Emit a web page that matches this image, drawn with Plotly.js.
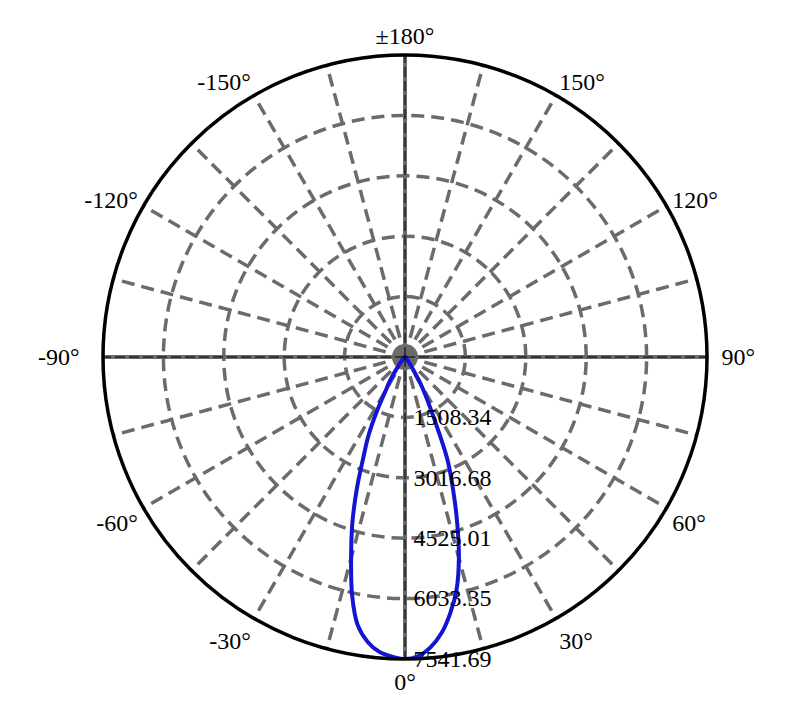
<!DOCTYPE html>
<html>
<head>
<meta charset="utf-8">
<script src="https://cdn.plot.ly/plotly-3.0.1.min.js"></script>
<style>
  html, body { margin: 0; padding: 0; background: #fff; }
  #chart { width: 810px; height: 710px; }
</style>
</head>
<body>
<div id="chart"></div>
<script>
// luminous intensity distribution (cd), C0/C180 plane, 0° pointing down
const angles = [-180, -90, -50, -45, -40, -35, -32.5, -30, -27.5, -25, -22.5, -20, -17.5, -15, -12.5, -10, -7.5, -5, -2.5,
                0, 2.5, 5, 7.5, 10, 12.5, 15, 17.5, 20, 22.5, 25, 27.5, 30, 32.5, 35, 40, 45, 50, 90, 180];
const intensity = [0, 0, 0, 50, 150, 400, 680, 950, 1500, 2150, 2720, 3530, 4380, 5200, 6100, 6800, 7170, 7390, 7490,
                   7541.69, 7480, 7280, 6960, 6500, 5950, 5200, 4330, 3500, 2760, 1800, 1200, 800, 400, 250, 100, 30, 0, 0, 0];

const radialTicks = [1508.34, 3016.68, 4525.01, 6033.35, 7541.69];
const radialLabels = ['1508.34', '3016.68', '4525.01', '6033.35', '7541.69'];

const angTicks = [0, 15, 30, 45, 60, 75, 90, 105, 120, 135, 150, 165, 180, 195, 210, 225, 240, 255, 270, 285, 300, 315, 330, 345];
const angLabels = ['0°', '', '30°', '', '60°', '', '90°', '', '120°', '', '150°', '', '±180°', '', '-150°', '', '-120°', '', '-90°', '', '-60°', '', '-30°', ''];
const axisAngles = [0, 90, 180, 270];

const serif = { family: 'Liberation Serif, Times New Roman, serif', size: 24, color: '#000' };
const gridGray = '#6b6b6b';
const domain = { x: [103 / 810, 707 / 810], y: [51 / 710, 655 / 710] };
const rRange = [0, 7541.69];

// the ±90° labels sit a little further out in the original
const angText = angLabels.map((t, i) => {
  if (angTicks[i] === 90) return '\u2004' + t;
  if (angTicks[i] === 270) return t + '\u2002\u2009';
  return t;
});

const hidden = { showticklabels: false, ticks: '', showline: false };

// polar: solid grey cross underneath, polar2: the chart, polar3: thin black dashes on the cross
const crossLayer = (color, width, dash) => ({
  domain: domain,
  bgcolor: 'rgba(0,0,0,0)',
  angularaxis: {
    ...hidden,
    rotation: 270,
    direction: 'counterclockwise',
    tickmode: 'array',
    tickvals: axisAngles,
    gridcolor: color,
    gridwidth: width,
    griddash: dash,
  },
  radialaxis: { ...hidden, range: rRange, showgrid: false },
});

Plotly.newPlot('chart', [
  { type: 'scatterpolar', subplot: 'polar', r: [], theta: [], hoverinfo: 'skip', showlegend: false },
  {
    type: 'scatterpolar',
    subplot: 'polar2',
    mode: 'lines',
    theta: angles,
    r: intensity,
    line: { color: '#1414d2', width: 4, shape: 'spline', smoothing: 1 },
    hoverinfo: 'skip',
    showlegend: false,
  },
  { type: 'scatterpolar', subplot: 'polar3', r: [], theta: [], hoverinfo: 'skip', showlegend: false },
], {
  width: 810,
  height: 710,
  paper_bgcolor: '#fff',
  margin: { l: 0, r: 0, t: 0, b: 0 },
  font: serif,
  showlegend: false,
  polar: crossLayer(gridGray, 4, 'solid'),
  polar2: {
    domain: domain,
    bgcolor: 'rgba(0,0,0,0)',
    angularaxis: {
      rotation: 270,
      direction: 'counterclockwise',
      tickmode: 'array',
      tickvals: angTicks,
      ticktext: angText,
      ticks: '',
      tickfont: serif,
      showline: true,
      linecolor: '#000',
      linewidth: 3.5,
      gridcolor: gridGray,
      gridwidth: 3.5,
      griddash: '13px,7px',
    },
    radialaxis: {
      range: rRange,
      angle: 270,
      tickangle: -90,
      side: 'counterclockwise',
      tickmode: 'array',
      tickvals: radialTicks,
      ticktext: radialLabels.map(t => '\u2004' + t),
      ticks: '',
      showline: false,
      tickfont: serif,
      gridcolor: gridGray,
      gridwidth: 3.5,
      griddash: '13px,7px',
    },
  },
  polar3: crossLayer('#000', 1, '10px,4px'),
}, { displayModeBar: false, staticPlot: true });
</script>
</body>
</html>
